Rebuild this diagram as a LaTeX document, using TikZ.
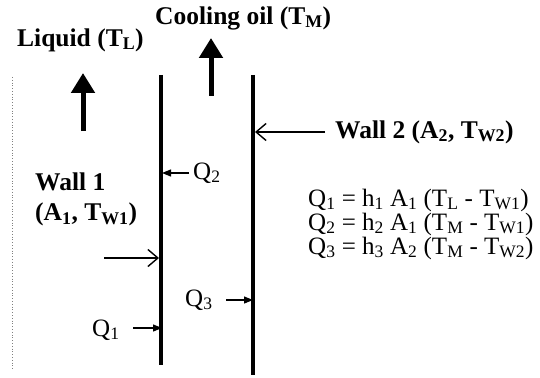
\documentclass[tikz,border=0pt]{standalone}
\usepackage{fontspec}
\setmainfont{Liberation Serif}
\usetikzlibrary{arrows.meta, positioning}
\tikzset{
  wall/.style={line width=3.2pt},
  flow/.style={line width=5pt, -{Triangle[length=20pt,width=23pt]}},
  pointer/.style={line width=1.4pt, -{Straight Barb[length=10pt,width=17pt]}},
  heat/.style={line width=1.2pt, -{Triangle[length=9pt,width=7pt]}},
  title/.style={font=\fontsize{25.5}{30}\selectfont\bfseries, inner sep=0pt, align=left},
  lbl/.style={font=\fontsize{25}{24}\selectfont, inner sep=0pt, align=left},
}

\begin{document}
\begin{tikzpicture}[x=1pt, y=-1pt]
\useasboundingbox (0,0) rectangle (540,377);

% ---- Walls ----------------------------------------------------
\coordinate (wOneTop) at (161,75);
\coordinate (wOneBot) at (161,365);
\coordinate (wTwoTop) at (253,75);
\coordinate (wTwoBot) at (253,375);
\draw[wall] (wOneTop) -- (wOneBot);
\draw[wall] (wTwoTop) -- (wTwoBot);
\draw[gray, dotted, line width=0.8pt] (12,77) -- (12,370);

% ---- Flow labels and arrows -----------------------------------
\node[title, anchor=west] (liquid) at (17,40) {Liquid (T\textsubscript{L})};
\node[title, anchor=west] (oil) at (155,18) {Cooling oil (T\textsubscript{M})};
\coordinate (liqS) at (83,131);
\coordinate (liqE) at (83,73);
\coordinate (oilS) at (211,96);
\coordinate (oilE) at (211,38);
\draw[flow] (liqS) -- (liqE);
\draw[flow] (oilS) -- (oilE);

% ---- Wall labels ----------------------------------------------
\node[title, anchor=west] (wTwoLbl) at (335,132) {Wall 2 (A\textsubscript{2}, T\textsubscript{W2})};
\node[title, anchor=north west] (wOneLbl) at (35,173) {Wall 1\\(A\textsubscript{1}, T\textsubscript{W1})};
\coordinate (wTwoS) at (325,132);
\coordinate (wTwoE) at (255,132);
\coordinate (wOneS) at (104,258);
\coordinate (wOneE) at (159,258);
\draw[pointer] (wTwoS) -- (wTwoE);
\draw[pointer] (wOneS) -- (wOneE);

% ---- Heat flows -----------------------------------------------
\node[lbl, anchor=west] (qTwo) at (193,173) {Q\textsubscript{2}};
\node[lbl, anchor=west] (qThree) at (185,300) {Q\textsubscript{3}};
\node[lbl, anchor=west] (qOne) at (92,330) {Q\textsubscript{1}};
\coordinate (qTwoE) at (162,173);
\coordinate (qThreeE) at (253,300);
\coordinate (qOneE) at (162,328);
\draw[heat] (qTwo.west) ++(-4,0) -- (qTwoE);
\draw[heat] (226,300) -- (qThreeE);
\draw[heat] (133,328) -- (qOneE);

% ---- Equations ------------------------------------------------
\node[lbl, anchor=west] (eqs) at (308,224) {Q\textsubscript{1} = h\textsubscript{1} A\textsubscript{1} (T\textsubscript{L} - T\textsubscript{W1})\\
Q\textsubscript{2} = h\textsubscript{2} A\textsubscript{1} (T\textsubscript{M} - T\textsubscript{W1})\\
Q\textsubscript{3} = h\textsubscript{3} A\textsubscript{2} (T\textsubscript{M} - T\textsubscript{W2})};

\end{tikzpicture}
\end{document}
